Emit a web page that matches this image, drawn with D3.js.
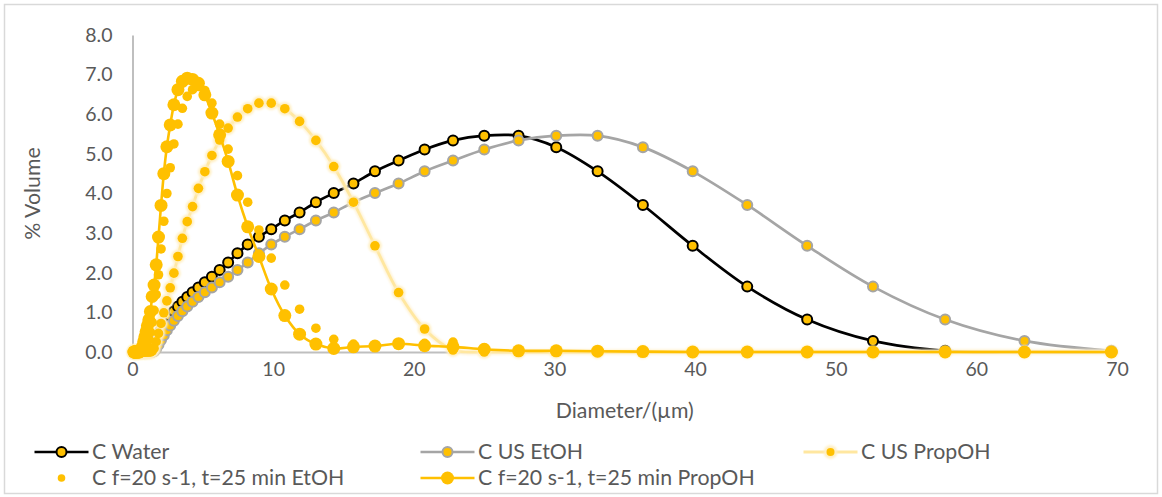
<!DOCTYPE html>
<html>
<head>
<meta charset="utf-8">
<script src="https://cdn.jsdelivr.net/npm/d3@7"></script>
<style>
  html, body { margin: 0; padding: 0; background: #fff; }
  svg { display: block; font-family: Lato, "Liberation Sans", sans-serif; }
</style>
</head>
<body>
<svg id="chart" width="1162" height="497"></svg>
<script>
// Particle size bins (µm), ascending
const diameters = [
  0.104, 0.114, 0.125, 0.137, 0.150, 0.165, 0.181, 0.198, 0.218, 0.239,
  0.262, 0.288, 0.316, 0.347, 0.380, 0.417, 0.458, 0.503, 0.552, 0.605,
  0.664, 0.729, 0.800, 0.878, 0.964, 1.058, 1.161, 1.274, 1.399, 1.535,
  1.685, 1.849, 2.029, 2.227, 2.444, 2.682, 2.944, 3.231, 3.546, 3.891,
  4.271, 4.687, 5.144, 5.646, 6.196, 6.800, 7.463, 8.191, 8.989, 9.866,
  10.83, 11.88, 13.04, 14.31, 15.71, 17.24, 18.92, 20.77, 22.79, 25.01,
  27.45, 30.13, 33.07, 36.29, 39.83, 43.71, 47.97, 52.65, 57.78, 63.42,
  69.60
];

// % volume per bin for each sample
const cWater = [
  0, 0, 0, 0, 0, 0, 0, 0, 0, 0,
  0, 0, 0, 0, 0, 0, 0, 0, 0, 0,
  0, 0, 0, 0, 0, 0, 0, 0.02, 0.08, 0.18,
  0.30, 0.42, 0.55, 0.67, 0.79, 0.91, 1.03, 1.15, 1.27, 1.39,
  1.51, 1.63, 1.76, 1.90, 2.07, 2.26, 2.49, 2.71, 2.91, 3.10,
  3.32, 3.52, 3.78, 4.01, 4.25, 4.56, 4.83, 5.11, 5.34, 5.46,
  5.46, 5.17, 4.56, 3.71, 2.68, 1.65, 0.82, 0.28, 0.03, 0,
  0
];

const cUsEtOH = [
  0, 0, 0, 0, 0, 0, 0, 0, 0, 0,
  0, 0, 0, 0, 0, 0, 0, 0, 0, 0,
  0, 0, 0, 0, 0, 0, 0, 0, 0, 0.02,
  0.08, 0.18, 0.30, 0.42, 0.55, 0.67, 0.79, 0.91, 1.03, 1.15,
  1.27, 1.39, 1.51, 1.63, 1.76, 1.90, 2.07, 2.26, 2.49, 2.71,
  2.91, 3.10, 3.32, 3.52, 3.78, 4.01, 4.25, 4.56, 4.83, 5.11,
  5.34, 5.46, 5.46, 5.17, 4.56, 3.71, 2.68, 1.65, 0.82, 0.28,
  0.03
];

const cUsPropOH = [
  0, 0, 0, 0, 0, 0, 0, 0, 0, 0,
  0, 0, 0, 0, 0, 0, 0, 0, 0, 0,
  0, 0, 0, 0, 0, 0, 0, 0, 0.02, 0.09,
  0.26, 0.47, 0.72, 0.99, 1.29, 1.62, 1.99, 2.41, 2.87, 3.29,
  3.67, 4.13, 4.55, 4.96, 5.35, 5.65, 5.93, 6.14, 6.28, 6.28,
  6.14, 5.82, 5.34, 4.68, 3.78, 2.68, 1.50, 0.58, 0.05, 0,
  0, 0, 0, 0, 0, 0, 0, 0, 0, 0,
  0
];

const cF20EtOH = [
  0, 0, 0, 0, 0, 0, 0, 0, 0, 0,
  0, 0, 0, 0, 0, 0, 0, 0, 0, 0,
  0, 0, 0, 0.03, 0.08, 0.18, 0.32, 0.50, 0.75, 1.05,
  1.45, 1.95, 2.60, 3.30, 4.00, 4.65, 5.25, 5.75, 6.15, 6.45,
  6.62, 6.70, 6.60, 6.28, 5.75, 5.12, 4.45, 3.78, 3.08, 2.37,
  1.69, 1.08, 0.60, 0.32, 0.20, 0.17, 0.20, 0.22, 0.25, 0.10,
  0.04, 0.02, 0, 0, 0, 0, 0, 0, 0, 0,
  0
];

const cF20PropOH = [
  0, 0, 0, 0, 0, 0, 0, 0, 0, 0,
  0, 0, 0, 0, 0, 0, 0, 0, 0.02, 0.04,
  0.08, 0.15, 0.26, 0.38, 0.51, 0.66, 0.81, 1.02, 1.40, 1.69,
  2.20, 2.90, 3.70, 4.50, 5.18, 5.73, 6.24, 6.62, 6.83, 6.91,
  6.88, 6.78, 6.49, 6.03, 5.48, 4.81, 3.96, 3.16, 2.41, 1.59,
  0.92, 0.45, 0.20, 0.09, 0.13, 0.15, 0.21, 0.16, 0.13, 0.07,
  0.03, 0.03, 0.02, 0.01, 0, 0, 0, 0, 0, 0,
  0
];

const seriesNames = [
  "C Water",
  "C US EtOH",
  "C US PropOH",
  "C f=20 s-1, t=25 min EtOH",
  "C f=20 s-1, t=25 min PropOH"
];

const xTicks = [0, 10, 20, 30, 40, 50, 60, 70];
const yTicks = [0, 1, 2, 3, 4, 5, 6, 7, 8];
const xTitle = "Diameter/(µm)";
const yTitle = "% Volume";

// ---- drawing ----
const svg = d3.select("#chart");
const textColor = "#595959";
const tickFont = "19.5px";
const labelFont = "21.3px";
const gold = "#FFC000";

svg.append("rect")
  .attr("x", 4.5).attr("y", 4.5)
  .attr("width", 1153).attr("height", 489)
  .attr("fill", "#fff")
  .attr("stroke", "#D9D9D9")
  .attr("stroke-width", 1.5);

const x = d3.scaleLinear().domain([0, 70]).range([132.5, 1117]);
const y = d3.scaleLinear().domain([0, 8]).range([352, 35]);

// soft glow used by the US PropOH series
const defs = svg.append("defs");
const glow = defs.append("filter").attr("id", "glow")
  .attr("x", "-20%").attr("y", "-20%").attr("width", "140%").attr("height", "140%");
glow.append("feGaussianBlur").attr("stdDeviation", 1.1);

// axes
const xAxis = svg.append("g")
  .attr("transform", `translate(0,${y(0)})`)
  .call(d3.axisBottom(x).tickValues(xTicks).tickSize(0).tickPadding(10)
    .tickFormat(d3.format("d")));
const yAxis = svg.append("g")
  .attr("transform", `translate(${x(0)},0)`)
  .call(d3.axisLeft(y).tickValues(yTicks).tickSize(0).tickPadding(20)
    .tickFormat(d3.format(".1f")));

[xAxis, yAxis].forEach(g => {
  g.select(".domain").attr("stroke", "#BFBFBF").attr("stroke-width", 2);
  g.selectAll("text")
    .attr("fill", textColor)
    .style("font-size", tickFont)
    .style("font-family", "Lato, 'Liberation Sans', sans-serif");
});

svg.append("text")
  .attr("transform", `translate(33,${(y(0) + y(8)) / 2}) rotate(-90)`)
  .attr("text-anchor", "middle")
  .attr("dy", "0.35em")
  .attr("fill", textColor)
  .style("font-size", labelFont)
  .text(yTitle);

svg.append("text")
  .attr("x", (x(0) + x(70)) / 2)
  .attr("y", 411)
  .attr("dy", "0.35em")
  .attr("text-anchor", "middle")
  .attr("fill", textColor)
  .style("font-size", labelFont)
  .text(xTitle);

const line = d3.line()
  .x(d => x(d[0]))
  .y(d => y(d[1]))
  .curve(d3.curveCatmullRom.alpha(0.5));

// per-series styling
const styles = [
  { values: cWater, line: "#000000", lw: 2.7, r: 5, fill: gold, stroke: "#000000", sw: 2 },
  { values: cUsEtOH, line: "#A5A5A5", lw: 2.7, r: 5, fill: gold, stroke: "#A5A5A5", sw: 2 },
  { values: cUsPropOH, line: "#FFE7A0", lw: 2.8, r: 4.8, fill: gold, stroke: "none", sw: 0, glow: true },
  { values: cF20EtOH, line: null, r: 4.8, fill: gold, stroke: "none", sw: 0 },
  { values: cF20PropOH, line: gold, lw: 2.6, r: 6.5, fill: gold, stroke: "none", sw: 0 }
];

const plot = svg.append("g");
styles.forEach((s, i) => {
  const pts = d3.zip(diameters, s.values);
  const g = plot.append("g").attr("class", "series-" + i);
  if (s.line) {
    if (s.glow) {
      g.append("path").datum(pts)
        .attr("d", line).attr("fill", "none")
        .attr("stroke", "#FFF3D6").attr("stroke-width", 5.5)
        .attr("filter", "url(#glow)");
    }
    g.append("path").datum(pts)
      .attr("d", line).attr("fill", "none")
      .attr("stroke", s.line).attr("stroke-width", s.lw)
      .attr("stroke-linejoin", "round");
  }
  if (s.glow) {
    g.selectAll("circle.halo").data(pts).join("circle")
      .attr("class", "halo")
      .attr("cx", d => x(d[0])).attr("cy", d => y(d[1]))
      .attr("r", s.r + 2)
      .attr("fill", "#FFEFC2")
      .attr("filter", "url(#glow)");
  }
  g.selectAll("circle.pt").data(pts).join("circle")
    .attr("class", "pt")
    .attr("cx", d => x(d[0])).attr("cy", d => y(d[1]))
    .attr("r", s.r)
    .attr("fill", s.fill)
    .attr("stroke", s.stroke)
    .attr("stroke-width", s.sw);
});

// legend: three columns, two rows
const legendSlots = [
  { col: 34.5, row: 452 },
  { col: 420.5, row: 452 },
  { col: 803.5, row: 452 },
  { col: 34.5, row: 478 },
  { col: 420.5, row: 478 }
];
const keyLen = 54;
const legend = svg.append("g");
styles.forEach((s, i) => {
  const slot = legendSlots[i];
  const g = legend.append("g").attr("transform", `translate(${slot.col},${slot.row})`);
  if (s.line) {
    if (s.glow) {
      g.append("line").attr("x1", 0).attr("x2", keyLen).attr("y1", 0).attr("y2", 0)
        .attr("stroke", "#FFF3D6").attr("stroke-width", 5.5).attr("filter", "url(#glow)");
    }
    g.append("line").attr("x1", 0).attr("x2", keyLen).attr("y1", 0).attr("y2", 0)
      .attr("stroke", s.line).attr("stroke-width", s.lw);
  }
  if (s.glow) {
    g.append("circle").attr("cx", keyLen / 2).attr("cy", 0).attr("r", s.r + 2)
      .attr("fill", "#FFEFC2").attr("filter", "url(#glow)");
  }
  g.append("circle")
    .attr("cx", keyLen / 2).attr("cy", 0)
    .attr("r", s.line ? (s.glow ? 4 : s.r) : 3.8)
    .attr("fill", s.fill).attr("stroke", s.stroke).attr("stroke-width", s.sw);
  g.append("text")
    .attr("x", keyLen + 3.5).attr("y", 0).attr("dy", "0.35em")
    .attr("fill", textColor)
    .style("font-size", labelFont)
    .text(seriesNames[i]);
});
</script>
</body>
</html>
